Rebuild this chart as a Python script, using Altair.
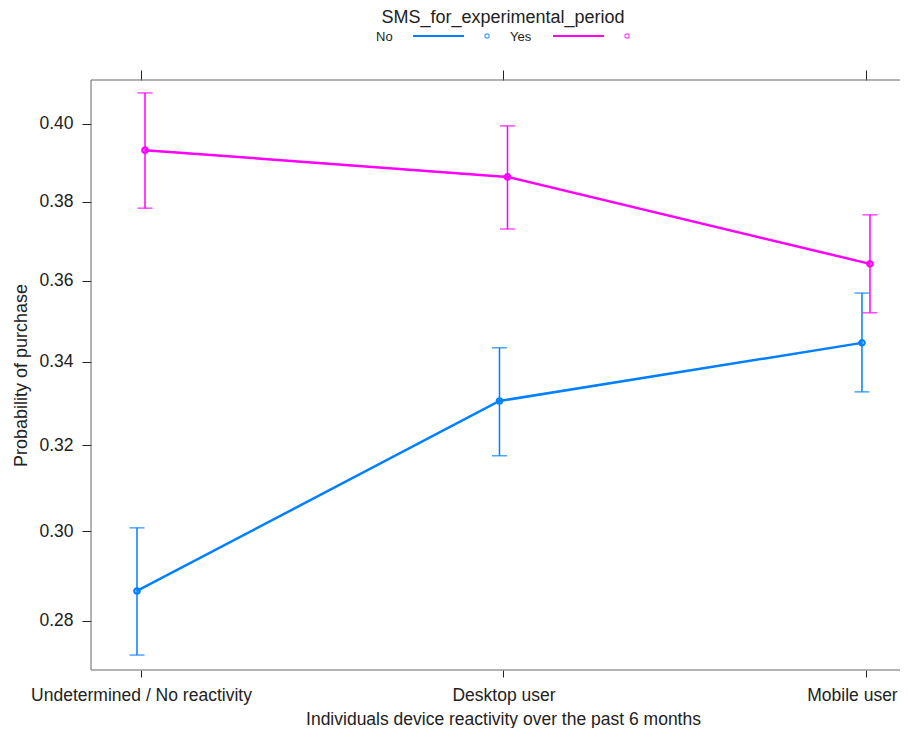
import math
import altair as alt
import pandas as pd

# ---- data ----
categories = ["Undetermined / No reactivity", "Desktop user", "Mobile user"]
groups = ["No", "Yes"]
colors = ["#0080ff", "#ff00ff"]

no_fit = [0.2866, 0.3305, 0.3446]
no_lo = [0.2726, 0.3175, 0.3327]
no_hi = [0.3008, 0.3434, 0.3569]

yes_fit = [0.3932, 0.3863, 0.3642]
yes_lo = [0.3783, 0.3730, 0.3520]
yes_hi = [0.4081, 0.3995, 0.3766]

y_ticks = [0.28, 0.30, 0.32, 0.34, 0.36, 0.38, 0.40]
y_limits = [0.2694, 0.4115]

rows = []
for i, c in enumerate(categories):
    rows.append(dict(cat=c, idx=i, grp="No", fit=no_fit[i], lo=no_lo[i], hi=no_hi[i]))
    rows.append(dict(cat=c, idx=i, grp="Yes", fit=yes_fit[i], lo=yes_lo[i], hi=yes_hi[i]))
df = pd.DataFrame(rows)


def lg(p):
    return math.log(p / (1 - p))


FONT = "Liberation Sans"
TXT = "#222222"
FRAME = "#666666"
W, H = 809, 590

base = alt.Chart(df).transform_calculate(
    lfit="log(datum.fit/(1-datum.fit))",
    llo="log(datum.lo/(1-datum.lo))",
    lhi="log(datum.hi/(1-datum.hi))",
)

xscale = alt.Scale(type="point", domain=categories, padding=0.1159, align=0.595)
xoff = alt.XOffset("grp:N", scale=alt.Scale(type="point", domain=groups, range=[-4, 4], padding=0))
color = alt.Color("grp:N", scale=alt.Scale(domain=groups, range=colors), legend=None)

yscale = alt.Scale(domain=[lg(y_limits[0]), lg(y_limits[1])], nice=False, zero=False)
yaxis = alt.Axis(
    values=[lg(v) for v in y_ticks],
    labelExpr="format(1/(1+exp(-datum.value)), '.2f')",
    tickSize=9, labelPadding=9, domain=False, grid=False,
    labelFontSize=17.5, titleFontSize=18, titleFontWeight="normal",
    titleX=-65, titleY=295, titleBaseline="alphabetic", titleAlign="center",
)

xaxis_bottom = alt.Axis(
    orient="bottom", domain=False, grid=False, tickSize=7, labelPadding=9,
    labelFontSize=17.5, labelAngle=0, labelLimit=0,
    labelOffset={"condition": {"test": "datum.value == 'Mobile user'", "value": -14}, "value": 0},
    titleFontSize=17.5, titleFontWeight="normal",
    titleY=54, titleX=412, titleAnchor="middle", titleAlign="center", titleBaseline="alphabetic",
)
xaxis_top = alt.Axis(orient="top", domain=False, grid=False, tickSize=10, labels=False, title=None)


def X(axis):
    return alt.X("cat:N", scale=xscale, sort=categories, axis=axis,
                 title="Individuals device reactivity over the past 6 months")


def Y(field):
    return alt.Y(field, scale=yscale, axis=yaxis, title="Probability of purchase")


lines = base.mark_line(strokeWidth=2.5).encode(
    x=X(xaxis_bottom), xOffset=xoff, y=Y("lfit:Q"), color=color, order=alt.Order("idx:Q")
)
rules = base.mark_rule(strokeWidth=1.5).encode(
    x=X(None), xOffset=xoff, y=Y("llo:Q"), y2="lhi:Q", color=color
)
caps_lo = base.mark_tick(orient="horizontal", size=15, thickness=1.5).encode(
    x=X(None), xOffset=xoff, y=Y("llo:Q"), color=color
)
caps_hi = base.mark_tick(orient="horizontal", size=15, thickness=1.5).encode(
    x=X(None), xOffset=xoff, y=Y("lhi:Q"), color=color
)
points = base.mark_point(shape="circle", filled=False, size=30, strokeWidth=2.2, opacity=1).encode(
    x=X(None), xOffset=xoff, y=Y("lfit:Q"), color=color
)
top_axis = base.mark_point(opacity=0).encode(x=X(xaxis_top), y=Y("lfit:Q"))

one = pd.DataFrame({"k": [0]})

# panel frame (left, top, bottom; the right side runs past the page edge)
frame_layers = [
    alt.Chart(one).mark_rule(color=FRAME, strokeWidth=1).encode(
        x=alt.value(0), y=alt.value(0), y2=alt.value(H)
    ),
    alt.Chart(one).mark_rule(color=FRAME, strokeWidth=1).encode(
        x=alt.value(0), x2=alt.value(W + 20), y=alt.value(0)
    ),
    alt.Chart(one).mark_rule(color=FRAME, strokeWidth=1).encode(
        x=alt.value(0), x2=alt.value(W + 20), y=alt.value(H)
    ),
]

legend_layers = [
    alt.Chart(one).mark_text(font=FONT, fontSize=18, align="center", baseline="alphabetic", color=TXT).encode(
        x=alt.value(412), y=alt.value(-57), text=alt.value("SMS_for_experimental_period")
    )
]
leg_text_x = [285, 419]
leg_line_x = [(322, 373), (462, 513)]
leg_pt_x = [396, 536]
for g, c, tx, (l1, l2), px in zip(groups, colors, leg_text_x, leg_line_x, leg_pt_x):
    legend_layers.append(
        alt.Chart(one).mark_text(font=FONT, fontSize=13, align="left", baseline="alphabetic", color=TXT).encode(
            x=alt.value(tx), y=alt.value(-39), text=alt.value(g)
        )
    )
    legend_layers.append(
        alt.Chart(one).mark_rule(strokeWidth=2, color=c).encode(
            x=alt.value(l1), x2=alt.value(l2), y=alt.value(-44)
        )
    )
    legend_layers.append(
        alt.Chart(one).mark_point(shape="circle", filled=False, size=18, strokeWidth=1.2, color=c).encode(
            x=alt.value(px), y=alt.value(-44)
        )
    )

chart = (
    alt.layer(*frame_layers, lines, rules, caps_lo, caps_hi, points, top_axis, *legend_layers)
    .resolve_axis(x="independent")
    .properties(
        width=W, height=H,
        autosize=alt.AutoSizeParams(type="none"),
        padding={"left": 83, "top": 72, "right": 0, "bottom": 58},
    )
    .configure_view(stroke=None)
    .configure_axis(
        labelFont=FONT, titleFont=FONT, labelColor=TXT, titleColor=TXT,
        tickColor=TXT, tickWidth=1,
    )
)

chart.save("out.html", embed_options={"renderer": "svg", "actions": False})
